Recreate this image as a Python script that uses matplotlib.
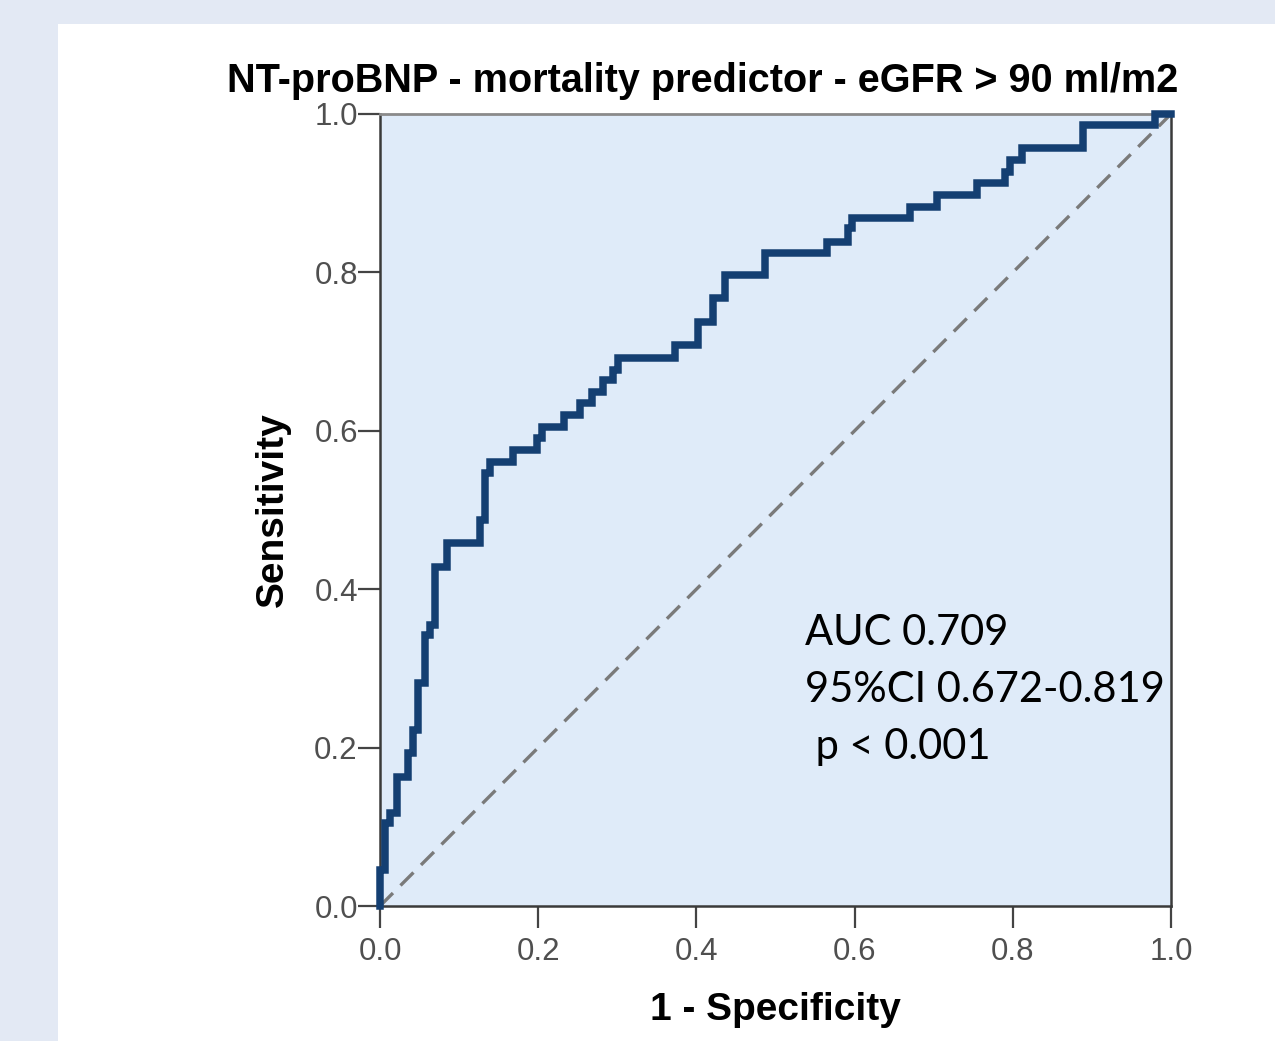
import matplotlib.pyplot as plt
from matplotlib.patches import Rectangle

# ROC curve corners: level starts at fpr[i] with sensitivity tpr[i]
fpr = [0.000, 0.000, 0.006, 0.013, 0.021, 0.035, 0.042, 0.048, 0.057, 0.063,
       0.070, 0.085, 0.126, 0.133, 0.139, 0.168, 0.198, 0.205, 0.233, 0.253,
       0.268, 0.282, 0.295, 0.301, 0.373, 0.402, 0.421, 0.436, 0.487, 0.565,
       0.592, 0.597, 0.670, 0.704, 0.755, 0.790, 0.796, 0.812, 0.889, 0.980,
       1.000]
tpr = [0.000, 0.045, 0.105, 0.117, 0.163, 0.193, 0.222, 0.281, 0.342, 0.355,
       0.428, 0.458, 0.487, 0.547, 0.561, 0.576, 0.591, 0.605, 0.620, 0.635,
       0.649, 0.664, 0.677, 0.692, 0.708, 0.737, 0.768, 0.797, 0.824, 0.838,
       0.856, 0.869, 0.883, 0.898, 0.913, 0.927, 0.942, 0.957, 0.986, 1.000,
       1.000]
ticks = [0.0, 0.2, 0.4, 0.6, 0.8, 1.0]
tick_labels = ["0.0", "0.2", "0.4", "0.6", "0.8", "1.0"]

title = "NT-proBNP - mortality predictor - eGFR > 90 ml/m2"
stats_lines = ["AUC 0.709", "95%CI 0.672-0.819", " p < 0.001"]

fig = plt.figure(figsize=(12.75, 10.41), dpi=100)
fig.patch.set_facecolor("#e3e9f4")
fig.patches.append(Rectangle((58 / 1275, 0), 1 - 58 / 1275, 1 - 24 / 1041,
                             transform=fig.transFigure, facecolor="white",
                             edgecolor="none", zorder=-10))

ax = fig.add_axes([380 / 1275, 135 / 1041, 791 / 1275, 792 / 1041])
ax.set_facecolor("#dfebf9")

# reference diagonal
ax.plot([0, 1], [0, 1], linestyle=(0, (5.5, 3.2)), color="#7a7a7a",
        linewidth=2.4, zorder=2)
ax.plot(fpr, tpr, drawstyle="steps-post", color="#143f72", linewidth=5.4,
        solid_joinstyle="miter", clip_on=False, zorder=3)

ax.set_xlim(0, 1)
ax.set_ylim(0, 1)
ax.set_xticks(ticks)
ax.set_yticks(ticks)
ax.set_xticklabels(tick_labels)
ax.set_yticklabels(tick_labels)
ax.tick_params(direction="out", length=16, width=1.6, color="#444444",
               labelsize=22.5, labelcolor="#4f4f4f")
ax.tick_params(axis="x", pad=6)
ax.tick_params(axis="y", pad=0)
for lab in ax.get_xticklabels() + ax.get_yticklabels():
    lab.set_family("Liberation Sans")

for side in ["left", "bottom", "right"]:
    ax.spines[side].set_color("#3a3a3a")
    ax.spines[side].set_linewidth(1.8)
ax.spines["top"].set_color("#8a8a8a")
ax.spines["top"].set_linewidth(2)

ax.set_xlabel("1 - Specificity", fontsize=28, fontweight="bold",
              family="Liberation Sans", va="center")
ax.xaxis.set_label_coords(0.5, (906 - 1010) / 792)
ax.set_ylabel("Sensitivity", fontsize=28, fontweight="bold",
              family="Liberation Sans", va="center")
ax.yaxis.set_label_coords((273 - 380) / 791, 0.5)

fig.text(703 / 1275, 1 - 81 / 1041, title, ha="center", va="center",
         fontsize=28.5, fontweight="bold", family="Liberation Sans")

for i, line in enumerate(stats_lines):
    ax.text(0.537, 0.3295 - i * 0.072, line, ha="left", va="baseline",
            fontsize=30, family="Lato", color="black", zorder=4)

fig.savefig("out.png", dpi=100, facecolor=fig.get_facecolor())
